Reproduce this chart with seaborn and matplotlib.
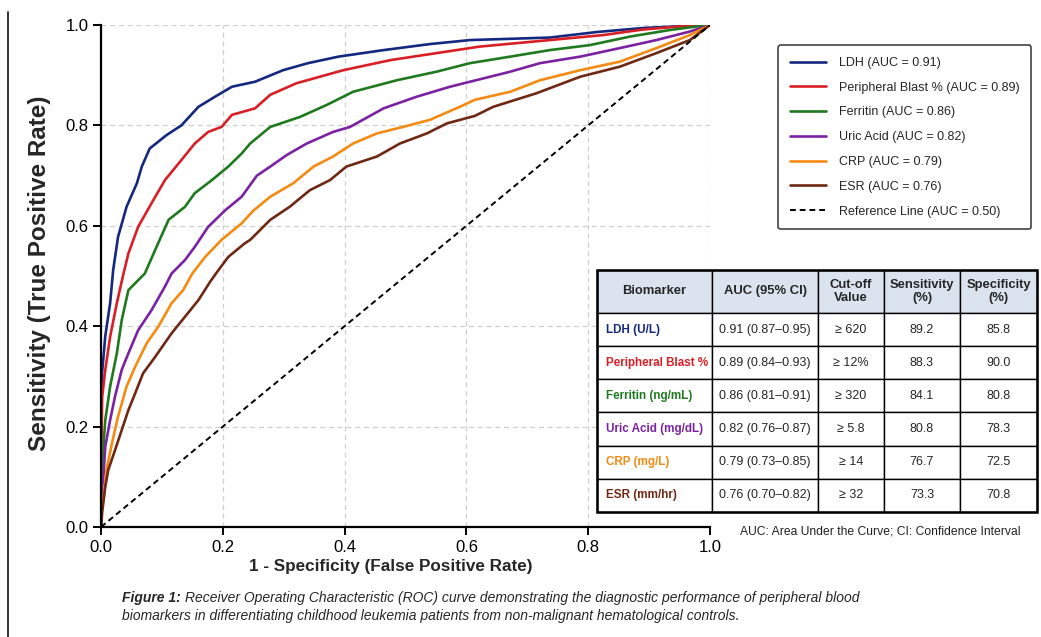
import pandas as pd
import seaborn as sns
import matplotlib.pyplot as plt
from matplotlib import font_manager
from matplotlib.lines import Line2D
from matplotlib.patches import Rectangle

sns.set_style("whitegrid")

# ROC points (fpr, tpr)
ldh_fpr = [0, 0, 0.002, 0.007, 0.015, 0.020, 0.028, 0.042, 0.059, 0.067, 0.080, 0.108, 0.132, 0.160,
           0.187, 0.215, 0.253, 0.299, 0.340, 0.390, 0.464, 0.540, 0.606, 0.737, 0.814, 0.890, 0.960, 1.0]
ldh_tpr = [0, 0.20, 0.31, 0.38, 0.446, 0.512, 0.578, 0.638, 0.685, 0.718, 0.754, 0.781, 0.800, 0.837,
           0.857, 0.877, 0.887, 0.910, 0.924, 0.937, 0.950, 0.962, 0.970, 0.975, 0.986, 0.994, 0.998, 1.0]

blast_fpr = [0, 0, 0.002, 0.007, 0.015, 0.026, 0.037, 0.045, 0.061, 0.083, 0.105, 0.132, 0.154, 0.176,
             0.198, 0.215, 0.253, 0.278, 0.321, 0.398, 0.475, 0.551, 0.622, 0.737, 0.825, 0.890, 0.960, 1.0]
blast_tpr = [0, 0.12, 0.26, 0.313, 0.379, 0.446, 0.505, 0.545, 0.598, 0.645, 0.691, 0.731, 0.764, 0.787,
             0.797, 0.821, 0.834, 0.861, 0.884, 0.910, 0.930, 0.944, 0.957, 0.970, 0.980, 0.991, 0.998, 1.0]

ferr_fpr = [0, 0, 0.002, 0.007, 0.015, 0.026, 0.034, 0.045, 0.072, 0.089, 0.111, 0.138, 0.154, 0.182,
            0.209, 0.231, 0.245, 0.278, 0.327, 0.371, 0.414, 0.486, 0.551, 0.606, 0.672, 0.737, 0.803,
            0.869, 0.934, 0.984, 1.0]
ferr_tpr = [0, 0.08, 0.127, 0.213, 0.28, 0.346, 0.412, 0.472, 0.505, 0.552, 0.612, 0.638, 0.665, 0.691,
            0.718, 0.744, 0.764, 0.797, 0.817, 0.841, 0.867, 0.890, 0.907, 0.924, 0.937, 0.950, 0.960,
            0.977, 0.990, 0.998, 1.0]

uric_fpr = [0, 0, 0.004, 0.007, 0.015, 0.023, 0.034, 0.045, 0.061, 0.083, 0.105, 0.116, 0.138, 0.154,
            0.176, 0.204, 0.231, 0.256, 0.278, 0.305, 0.338, 0.381, 0.409, 0.464, 0.518, 0.573, 0.606,
            0.672, 0.721, 0.787, 0.852, 0.912, 0.967, 1.0]
uric_tpr = [0, 0.06, 0.10, 0.16, 0.213, 0.26, 0.313, 0.346, 0.392, 0.432, 0.479, 0.505, 0.532, 0.558,
            0.598, 0.631, 0.658, 0.700, 0.718, 0.741, 0.764, 0.787, 0.797, 0.834, 0.857, 0.877, 0.887,
            0.907, 0.924, 0.937, 0.954, 0.970, 0.987, 1.0]

crp_fpr = [0, 0, 0.004, 0.009, 0.018, 0.028, 0.042, 0.056, 0.075, 0.094, 0.116, 0.135, 0.150, 0.171,
           0.198, 0.231, 0.250, 0.278, 0.316, 0.349, 0.381, 0.414, 0.453, 0.496, 0.540, 0.589, 0.614,
           0.672, 0.721, 0.787, 0.852, 0.912, 0.967, 1.0]
crp_tpr = [0, 0.03, 0.054, 0.114, 0.167, 0.22, 0.28, 0.319, 0.366, 0.399, 0.446, 0.472, 0.505, 0.538,
           0.572, 0.605, 0.630, 0.658, 0.685, 0.718, 0.738, 0.764, 0.784, 0.797, 0.811, 0.837, 0.851,
           0.867, 0.890, 0.910, 0.927, 0.954, 0.980, 1.0]

esr_fpr = [0, 0.002, 0.007, 0.012, 0.023, 0.034, 0.045, 0.056, 0.069, 0.089, 0.116, 0.138, 0.160, 0.180,
           0.193, 0.209, 0.236, 0.245, 0.278, 0.310, 0.343, 0.376, 0.403, 0.453, 0.491, 0.535, 0.568,
           0.614, 0.644, 0.715, 0.787, 0.852, 0.912, 0.967, 1.0]
esr_tpr = [0, 0.03, 0.08, 0.114, 0.153, 0.193, 0.233, 0.266, 0.306, 0.339, 0.386, 0.419, 0.452, 0.490,
           0.512, 0.538, 0.565, 0.572, 0.612, 0.638, 0.671, 0.691, 0.718, 0.738, 0.764, 0.784, 0.804,
           0.819, 0.837, 0.864, 0.897, 0.917, 0.944, 0.970, 1.0]

names = ["LDH", "Peripheral Blast %", "Ferritin", "Uric Acid", "CRP", "ESR"]
aucs = [0.91, 0.89, 0.86, 0.82, 0.79, 0.76]
colors = ["#14287f", "#d91f26", "#1f7a1f", "#7b22a3", "#f58a12", "#6e2813"]
curves = [(ldh_fpr, ldh_tpr), (blast_fpr, blast_tpr), (ferr_fpr, ferr_tpr),
          (uric_fpr, uric_tpr), (crp_fpr, crp_tpr), (esr_fpr, esr_tpr)]

# summary table
table_markers = ["LDH (U/L)", "Peripheral Blast %", "Ferritin (ng/mL)",
                 "Uric Acid (mg/dL)", "CRP (mg/L)", "ESR (mm/hr)"]
table_auc_ci = ["0.91 (0.87\u20130.95)", "0.89 (0.84\u20130.93)", "0.86 (0.81\u20130.91)",
                "0.82 (0.76\u20130.87)", "0.79 (0.73\u20130.85)", "0.76 (0.70\u20130.82)"]
table_cutoff = ["\u2265 620", "\u2265 12%", "\u2265 320", "\u2265 5.8", "\u2265 14", "\u2265 32"]
table_sens = ["89.2", "88.3", "84.1", "80.8", "76.7", "73.3"]
table_spec = ["85.8", "90.0", "80.8", "78.3", "72.5", "70.8"]
col_labels = ["Biomarker", "AUC (95% CI)", "Cut-off\nValue", "Sensitivity\n(%)", "Specificity\n(%)"]

# fonts: the source uses a condensed sans
available = {f.name for f in font_manager.fontManager.ttflist}
if "Liberation Sans Narrow" in available:
    base, k = "Liberation Sans Narrow", 1.0
else:
    base, k = "Liberation Sans", 0.82
plt.rcParams["font.family"] = [base, "DejaVu Sans"]

rows = []
for name, auc, (fx, fy) in zip(names, aucs, curves):
    lab = f"{name} (AUC = {auc:.2f})"
    for a, b in zip(fx, fy):
        rows.append({"fpr": a, "tpr": b, "label": lab})
df = pd.DataFrame(rows)
labels = list(dict.fromkeys(df["label"]))

W, H = 1041, 637
fig = plt.figure(figsize=(W / 100, H / 100), dpi=100)
ax = fig.add_axes([101 / W, 1 - 527 / H, 609 / W, 502 / H])

sns.lineplot(data=df, x="fpr", y="tpr", hue="label", palette=dict(zip(labels, colors)),
             sort=False, estimator=None, linewidth=1.9, ax=ax, legend=False)
ax.plot([0, 1], [0, 1], color="black", linestyle=(0, (3, 2)), linewidth=1.4)

ax.set_xlim(0, 1)
ax.set_ylim(0, 1)
ax.set_xticks([0, 0.2, 0.4, 0.6, 0.8, 1.0])
ax.set_yticks([0, 0.2, 0.4, 0.6, 0.8, 1.0])
ax.set_xticklabels(["0.0", "0.2", "0.4", "0.6", "0.8", "1.0"])
ax.set_yticklabels(["0.0", "0.2", "0.4", "0.6", "0.8", "1.0"])
ax.grid(True, color="#cfcfcf", linestyle=(0, (4, 3)), linewidth=0.9)
for side in ["top", "right"]:
    ax.spines[side].set_visible(False)
for side in ["left", "bottom"]:
    ax.spines[side].set_color("black")
    ax.spines[side].set_linewidth(1.6)
ax.tick_params(axis="both", which="major", direction="out", length=6, width=1.4,
               color="black", labelsize=14.6 * k, labelcolor="black", pad=3, bottom=True, left=True)

ax.set_xlabel("1 - Specificity (False Positive Rate)", fontsize=15 * k, fontweight="bold")
ax.xaxis.set_label_coords(0.476, -0.064)
ax.set_ylabel("Sensitivity (True Positive Rate)", fontsize=17.5, fontweight="bold",
              family=["Liberation Sans", "DejaVu Sans"])
ax.yaxis.set_label_coords(-0.082, 0.505)

handles = [Line2D([], [], color=c, linewidth=1.9) for c in colors]
handles.append(Line2D([], [], color="black", linestyle=(0, (3, 2)), linewidth=1.4))
leg_labels = labels + ["Reference Line (AUC = 0.50)"]
leg = fig.legend(handles, leg_labels, loc="upper left", bbox_to_anchor=(778 / W, 1 - 45 / H),
                 borderaxespad=0, frameon=True, fancybox=True, fontsize=11 * k,
                 handlelength=2.9, labelspacing=1.02, borderpad=0.95, handletextpad=1.0)
leg.get_frame().set_edgecolor("#333333")
leg.get_frame().set_linewidth(1.1)
leg.get_frame().set_alpha(1)

# table
tab_ax = fig.add_axes([597 / W, 1 - 512 / H, 440 / W, 242 / H])
tab_ax.axis("off")
cell_text = [list(r) for r in zip(table_markers, table_auc_ci, table_cutoff, table_sens, table_spec)]
col_w = [115, 106, 66, 76, 77]
tbl = tab_ax.table(cellText=cell_text, colLabels=col_labels, colWidths=[w / 440 for w in col_w],
                   cellLoc="center", bbox=[0, 0, 1, 1])
tbl.auto_set_font_size(False)
for (r, c), cell in tbl.get_celld().items():
    cell.set_edgecolor("black")
    cell.set_linewidth(1.0)
    cell.set_height(43 if r == 0 else 33.2)
    txt = cell.get_text()
    txt.set_fontsize(11 * k)
    if r == 0:
        cell.set_facecolor("#dbe3ee")
        txt.set_fontweight("bold")
        txt.set_fontsize(11.4 * k)
        txt.set_linespacing(1.05)
    elif c == 0:
        txt.set_color(colors[r - 1])
        txt.set_fontweight("bold")
        txt.set_fontsize(10.2 * k)
        cell._loc = "left"
        txt.set_horizontalalignment("left")
        cell.PAD = 0.075
tab_ax.add_patch(Rectangle((0, 0), 1, 1, transform=tab_ax.transAxes, fill=False,
                           edgecolor="black", linewidth=1.8, clip_on=False, zorder=5))

fig.text(740 / W, 1 - 532 / H, "AUC: Area Under the Curve; CI: Confidence Interval",
         fontsize=10.7 * k, va="center", ha="left", color="#222222")

# caption
cap_y1 = 1 - 598 / H
cap_y2 = 1 - 616 / H
cap_fs = 12.2 * k
t1 = fig.text(122 / W, cap_y1, "Figure 1:", fontsize=cap_fs, fontweight="bold", style="italic",
              va="center", ha="left")
fig.canvas.draw()
bb = t1.get_window_extent(fig.canvas.get_renderer())
fig.text(bb.x1 / W + 4 / W, cap_y1,
         "Receiver Operating Characteristic (ROC) curve demonstrating the diagnostic performance of peripheral blood",
         fontsize=cap_fs, style="italic", va="center", ha="left")
fig.text(122 / W, cap_y2,
         "biomarkers in differentiating childhood leukemia patients from non-malignant hematological controls.",
         fontsize=cap_fs, style="italic", va="center", ha="left")

fig.add_artist(Line2D([8 / W, 8 / W], [0, 1 - 12 / H], color="#222222", linewidth=1.3))

fig.savefig("out.png", dpi=100)
